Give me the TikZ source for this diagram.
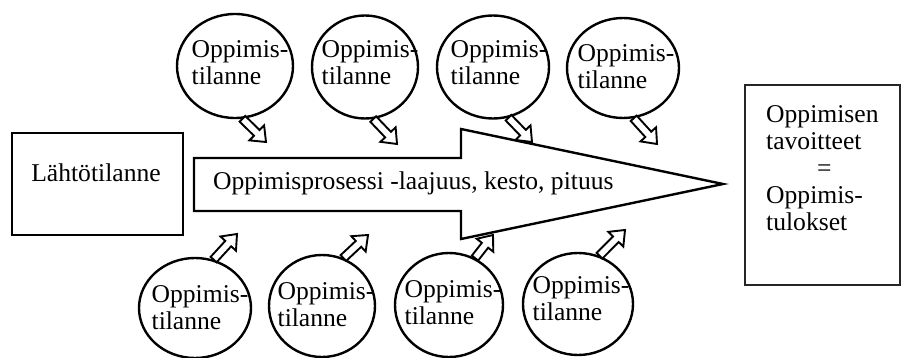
\documentclass[tikz,border=0pt]{standalone}
\usepackage{fontspec}
\setmainfont{Liberation Serif}
\usetikzlibrary{shapes.geometric,calc}
\newcommand\hollowarrow[2]{%
  \coordinate (hb) at ($(#2)!13pt!(#1)$);
  \draw[harrow] ($(#1)!4pt!90:(#2)$) -- ($(hb)!4pt!90:(#2)$) -- ($(hb)!10.5pt!90:(#2)$) -- (#2)
    -- ($(hb)!10.5pt!-90:(#2)$) -- ($(hb)!4pt!-90:(#2)$) -- ($(#1)!4pt!-90:(#2)$) -- cycle;}
\begin{document}
\begin{tikzpicture}[x=1pt,y=-1pt,
  ocirc/.style={ellipse,draw,line width=2.4pt,inner sep=0pt},
  otext/.style={align=left,inner sep=0pt,font=\fontsize{25.6}{27}\selectfont},
  obox/.style={rectangle,draw,line width=2.8pt,inner sep=0pt},
  harrow/.style={draw,fill=white,line width=1.9pt,line join=miter},
  bigarrow/.style={draw,line width=2.4pt,line join=miter}]
\useasboundingbox (0,0) rectangle (902,358);

% top circles
\node[ocirc,minimum width=116pt,minimum height=104pt] (t1) at (235,66) {};
\node[ocirc,minimum width=106pt,minimum height=103pt] (t2) at (365,67) {};
\node[ocirc,minimum width=112pt,minimum height=103pt] (t3) at (493,67) {};
\node[ocirc,minimum width=112pt,minimum height=100pt] (t4) at (623,68) {};
\node[otext] (t1x) at (240,63) {Oppimis-\\tilanne};
\node[otext] (t2x) at (370,63) {Oppimis-\\tilanne};
\node[otext] (t3x) at (499,63) {Oppimis-\\tilanne};
\node[otext] (t4x) at (626,67) {Oppimis-\\tilanne};

% bottom circles
\node[ocirc,minimum width=112pt,minimum height=100pt] (b1) at (195,308) {};
\node[ocirc,minimum width=106pt,minimum height=102pt] (b2) at (322,306) {};
\node[ocirc,minimum width=108pt,minimum height=104pt] (b3) at (449,305) {};
\node[ocirc,minimum width=110pt,minimum height=102pt] (b4) at (578,304) {};
\node[otext] (b1x) at (200,308) {Oppimis-\\tilanne};
\node[otext] (b2x) at (326,305) {Oppimis-\\tilanne};
\node[otext] (b3x) at (453,303) {Oppimis-\\tilanne};
\node[otext] (b4x) at (581,299) {Oppimis-\\tilanne};

% arrow tips
\coordinate (a1) at (266,142);
\coordinate (a2) at (397,144);
\coordinate (a3) at (532,142);
\coordinate (a4) at (657,144);
\coordinate (c1) at (237,234);
\coordinate (c2) at (368,235);
\coordinate (c3) at (493,235);
\coordinate (c4) at (625,230);

\hollowarrow{t1.-82}{a1}
\hollowarrow{t2.-81}{a2}
\hollowarrow{t3.-73}{a3}
\hollowarrow{t4.-78}{a4}
\hollowarrow{b1.69}{c1}
\hollowarrow{b2.66}{c2}
\hollowarrow{b3.61}{c3}
\hollowarrow{b4.66}{c4}

% big process arrow
\draw[bigarrow] (194,158) -- (461,158) -- (461,129) -- (723,184) -- (461,239) -- (461,211) -- (194,211) -- cycle;
\node[otext,anchor=west] (proc) at (213,183) {Oppimisprosessi -laajuus, kesto, pituus};

% boxes
\node[obox,minimum width=171pt,minimum height=102pt] (lbox) at (97.5,184) {};
\node[otext] (ltext) at (96,173) {Lähtötilanne};
\node[obox,draw=black!85,minimum width=155pt,minimum height=200pt] (rbox) at (822.5,185) {};
\node[otext,anchor=west] (rtext) at (766,168) {Oppimisen\\tavoitteet\\\hspace*{51pt}=\\Oppimis-\\tulokset};
\end{tikzpicture}
\end{document}
